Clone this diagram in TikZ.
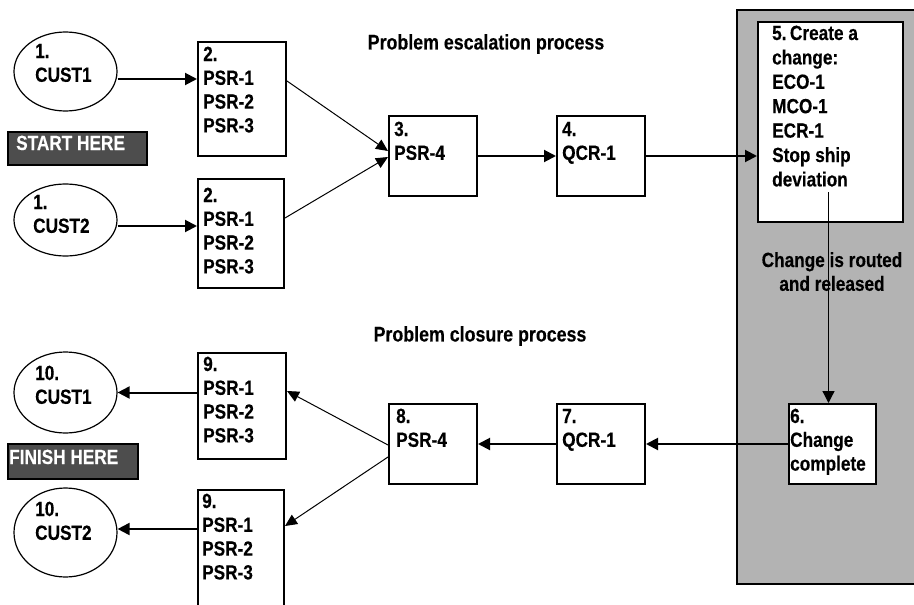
\documentclass[tikz,border=0pt]{standalone}
\usepackage{fontspec}
\setmainfont{Liberation Sans}[FakeStretch=0.84, BoldFeatures={FakeBold=0.3}]
\usetikzlibrary{shapes.geometric,arrows.meta,calc}
\definecolor{panelgray}{HTML}{B3B3B3}
\definecolor{darkbox}{HTML}{4D4D4D}
\begin{document}
\begin{tikzpicture}[x=1pt,y=-1pt,
  box/.style={draw, line width=2pt, rectangle, anchor=north west, inner sep=0, fill=white},
  oval/.style={draw, line width=1.2pt, ellipse, inner sep=0},
  lbl/.style={font=\bfseries\fontsize{20.5}{23.8}\selectfont, align=left, inner sep=0, anchor=base west},
  tag/.style={draw, line width=2pt, fill=darkbox, rectangle, anchor=north west, inner sep=0},
  taglbl/.style={lbl, text=white},
  harr/.style={line width=2pt, -{Triangle[length=12pt,width=12pt]}},
  darr/.style={line width=1pt, -{Triangle[length=12pt,width=11pt]}},
  vline/.style={line width=1.3pt, -{Triangle[length=12pt,width=12pt]}}
]
\useasboundingbox (0,0) rectangle (914,605);
% gray panel
\fill[panelgray] (737,10) rectangle (925,584);
\draw[line width=2pt] (925,10) -- (737,10) -- (737,584) -- (925,584);

% titles
\node[lbl, anchor=center, font=\bfseries\fontsize{21.2}{24}\selectfont] (t1) at (486,44) {Problem escalation process};
\node[lbl, anchor=center, font=\bfseries\fontsize{21.2}{24}\selectfont] (t2) at (480,336) {Problem closure process};

% (text nodes: anchor base west = baseline of LAST line)
\node[oval, minimum width=103pt, minimum height=79pt] (c1) at (65.5,71.5) {};
\node[lbl] (c1t) at (35,81.8) {1.\\CUST1};
\node[oval, minimum width=103pt, minimum height=72pt] (c2) at (65.5,220) {};
\node[lbl] (c2t) at (33,232.8) {1.\\CUST2};

\node[tag, minimum width=139pt, minimum height=33pt] (sh) at (7,131) {};
\node[taglbl] (sht) at (16,150) {START HERE};

\node[box, minimum width=88pt, minimum height=114pt] (b2a) at (197,41) {};
\node[lbl] (b2at) at (203,132.4) {2.\\PSR-1\\PSR-2\\PSR-3};
\node[box, minimum width=86pt, minimum height=109pt] (b2b) at (197,178) {};
\node[lbl] (b2bt) at (203,273.4) {2.\\PSR-1\\PSR-2\\PSR-3};

\node[box, minimum width=88pt, minimum height=80pt] (b3) at (388,115) {};
\node[lbl] (b3t) at (394,159.8) {3.\\PSR-4};
\node[box, minimum width=88pt, minimum height=80pt] (b4) at (556,115) {};
\node[lbl] (b4t) at (562,159.8) {4.\\QCR-1};

\node[box, minimum width=145pt, minimum height=200pt] (b5) at (757,21) {};
\node[lbl, font=\bfseries\fontsize{20.5}{24.4}\selectfont] (b5t) at (772,186.4) {5.\,Create a\\change:\\ECO-1\\MCO-1\\ECR-1\\Stop ship\\deviation};

\node[lbl, align=center, anchor=base] (rt) at (832,290.8) {Change is routed\\and released};

\node[box, minimum width=87pt, minimum height=80pt] (b6) at (788,403) {};
\node[lbl] (b6t) at (790,470.6) {6.\\Change\\complete};
\node[box, minimum width=88pt, minimum height=80pt] (b7) at (556,403) {};
\node[lbl] (b7t) at (562,446.8) {7.\\QCR-1};
\node[box, minimum width=88pt, minimum height=80pt] (b8) at (388,403) {};
\node[lbl] (b8t) at (396,446.8) {8.\\PSR-4};

\node[box, minimum width=88pt, minimum height=106pt] (b9a) at (197,352) {};
\node[lbl] (b9at) at (203,442.4) {9.\\PSR-1\\PSR-2\\PSR-3};
\node[box, minimum width=86pt, minimum height=130pt] (b9b) at (197,489) {};
\node[lbl] (b9bt) at (202,579.4) {9.\\PSR-1\\PSR-2\\PSR-3};

\node[oval, minimum width=103pt, minimum height=81pt] (c10a) at (65.5,392.5) {};
\node[lbl] (c10at) at (35,403.8) {10.\\CUST1};
\node[oval, minimum width=103pt, minimum height=89pt] (c10b) at (65.5,532.5) {};
\node[lbl] (c10bt) at (35,539.8) {10.\\CUST2};

\node[tag, minimum width=130pt, minimum height=35pt] (fh) at (7,443) {};
\node[taglbl] (fht) at (9,464) {FINISH HERE};

% connectors
\draw[harr] ([yshift=-7.5pt]c1.east) -- ([yshift=-7.5pt]c1.east -| b2a.west);
\draw[harr] ([yshift=-6pt]c2.east) -- ([yshift=-6pt]c2.east -| b2b.west);
\draw[darr] ([yshift=-40pt]b2a.north east) -- ([yshift=-36pt]b3.north west);
\draw[darr] ([yshift=-40pt]b2b.north east) -- ([yshift=-42pt]b3.north west);
\draw[harr] (b3.east) -- (b4.west);
\draw[harr] (b4.east) -- (b4.east -| b5.west);
\coordinate (v5) at ([yshift=31pt, xshift=-2pt]b5.south);
\draw[vline] (v5) -- (v5 |- b6.north);
\draw[harr] (b6.west) -- (b7.east);
\draw[harr] (b7.west) -- (b8.east);
\draw[darr] ([yshift=-42pt]b8.north west) -- ([yshift=-39pt]b9a.north east);
\draw[darr] ([yshift=-54pt]b8.north west) -- ([yshift=-37pt]b9b.north east);
\draw[harr] (c10a.east -| b9a.west) -- (c10a.east);
\draw[harr] ([yshift=3.5pt]c10b.east -| b9b.west) -- ([yshift=3.5pt]c10b.east);
\end{tikzpicture}
\end{document}
